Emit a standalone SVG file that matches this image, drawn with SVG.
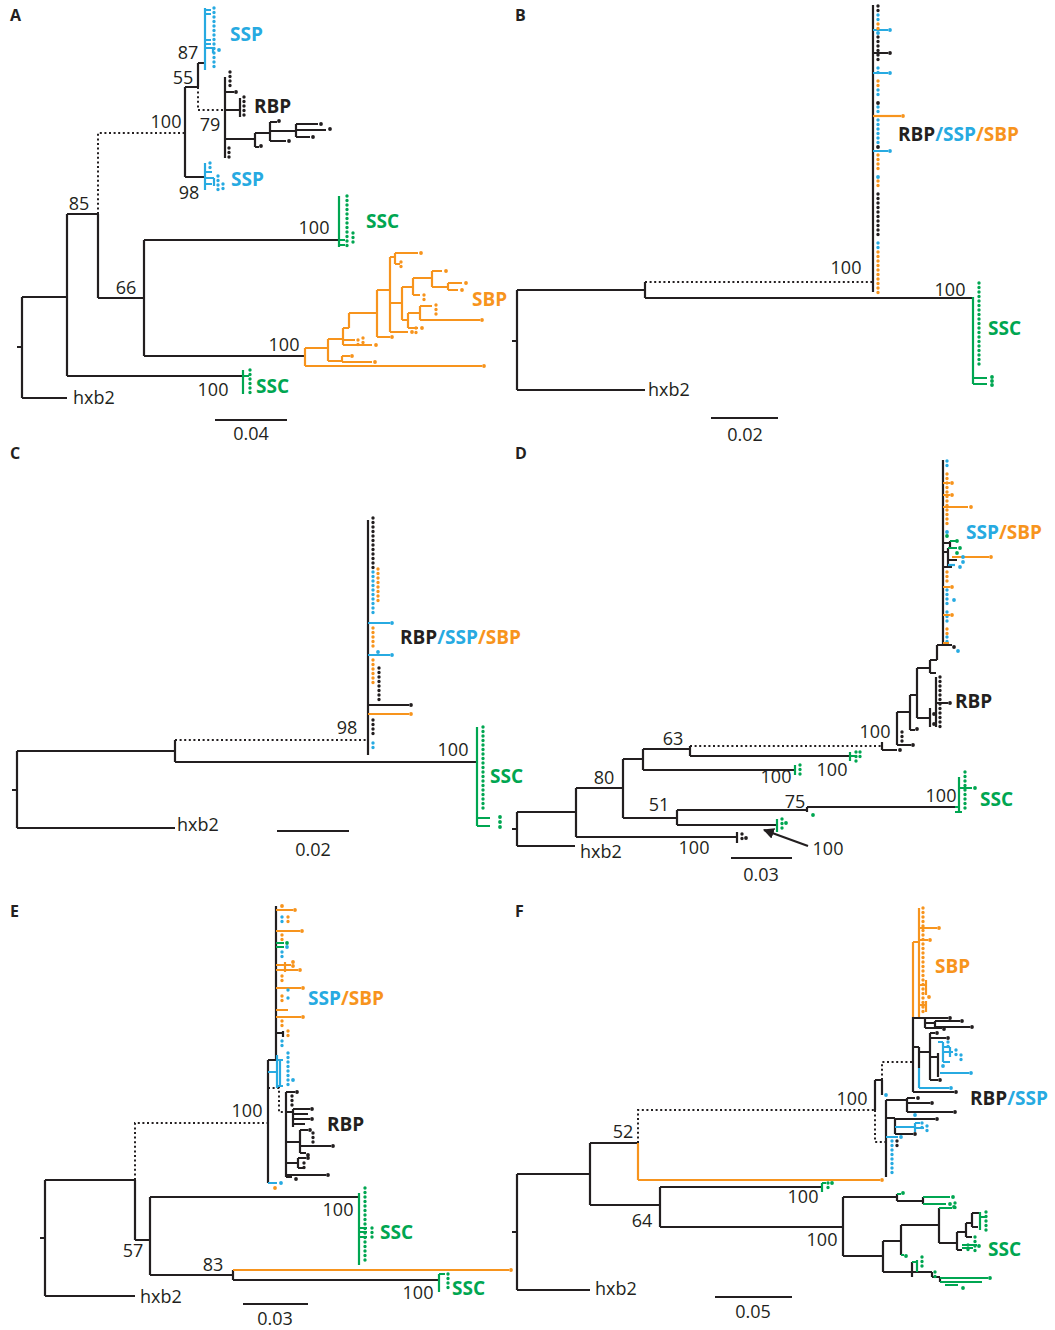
<svg xmlns="http://www.w3.org/2000/svg" width="1055" height="1330" viewBox="0 0 1055 1330">
<style>
.k{fill:none;stroke:#231f20;stroke-width:2.2}
.b{fill:none;stroke:#27aae1;stroke-width:2.2}
.o{fill:none;stroke:#f7941d;stroke-width:2.2}
.g{fill:none;stroke:#00a651;stroke-width:2.2}
.dt{fill:none;stroke:#231f20;stroke-width:2;stroke-dasharray:2 2.6}
.dk,.db,.do,.dg{fill:none;stroke-width:3.4;stroke-linecap:round;stroke-dasharray:0 4.5}
.pk,.pb,.po,.pg{fill:none;stroke-width:3.8;stroke-linecap:round}
.dk,.pk{stroke:#231f20}.db,.pb{stroke:#27aae1}.do,.po{stroke:#f7941d}.dg,.pg{stroke:#00a651}
text{font-family:"Open Sans","Liberation Sans",Arial,sans-serif;fill:#231f20}
.n{font-size:18px;text-anchor:middle}
.h{font-size:18px}
.L{font-size:19px;font-weight:bold}
.P{font-size:16px;font-weight:bold}
.tb{fill:#27aae1}.to{fill:#f7941d}.tg{fill:#00a651}
</style>
<defs>
<marker id="arr" viewBox="0 0 10 10" refX="9" refY="5" markerWidth="5" markerHeight="5" orient="auto"><path d="M0 0L10 5L0 10z" fill="#231f20"/></marker>
</defs>

<g id="panel-A">
<g id="A-connectors">
<path class="k" d="M17 347H22 M22 297V398 M22 297H67 M22 398H67 M67 214V376 M67 214H98 M98 214V298 M98 298H144 M144 240V356 M144 240H339 M144 356H305 M67 376H243 M185 87V177 M185 87H198 M198 87V63 M198 63H205 M185 177H205"/>
<path class="dt" d="M98 214V133H185 M198 87V110H225"/>
<path class="k" d="M225 77V158 M225 92H234 M225 110H240 M240 98V117 M225 139H255 M255 133V147 M255 147H259 M255 133H270 M270 122V141 M270 122H277 M270 131H296 M296 124V137 M296 124H318 M296 130H326 M296 137H310 M270 141H286"/>
<path class="dk" d="M230 72V86 M244 97V118 M229 148V158"/>
<path class="pk" d="M236 92h0 M261 146h0 M279 121h0 M321 124h0 M330 129h0 M313 137h0 M289 141h0"/>
<path class="b" d="M205 8V70 M205 10H211 M205 14H211 M205 40H211 M205 44H211 M205 48H213 M213 48V53"/>
<path class="db" d="M214 8V70"/>
<path class="pb" d="M219 50h0"/>
<path class="b" d="M205 163V190 M205 172H212 M205 178H214 M205 184H212 M214 178V186"/>
<path class="db" d="M210 163V172 M218 176V190 M223 184V190"/>
<path class="g" d="M339 196V247 M339 240H345 M339 245H345"/>
<path class="dg" d="M347 196V246 M353 233V246"/>
<path class="g" d="M243 370V394 M243 376H249"/>
<path class="dg" d="M250 370V394"/>
<path class="o" d="M305 348V366 M305 366H482 M305 348H328 M328 339V361 M328 361H342 M342 356V362 M342 356H350 M342 362H372 M328 339H343 M343 328V345 M343 345H372 M343 340H355 M343 328H349 M349 313V328 M349 313H377 M377 290V337 M377 337H390 M377 290H390 M390 257V332 M390 332H408 M390 257H395 M395 253V264 M395 253H418 M395 264H400 M390 303H402 M402 287V320 M402 287H413 M413 278V295 M413 278H432 M432 271V287 M432 271H442 M432 287H448 M448 283V290 M448 283H462 M448 290H458 M413 295H420 M402 320H408 M408 313V328 M408 313H420 M420 306V320 M420 306H432 M420 320H480 M408 328H418"/>
<path class="po" d="M484 366h0 M352 356h0 M375 362h0 M376 345h0 M392 337h0 M421 253h0 M446 271h0 M466 283h0 M462 290h0 M482 320h0 M422 328h0 M412 332h0"/>
<path class="do" d="M363 338V344 M401 262V270 M424 295V300 M436 305V318 M416 328V333 M358 340V345"/>
</g>
<g id="A-labels">
<text class="P" x="10" y="21">A</text>
<text class="n" x="188" y="59">87</text>
<text class="n" x="183" y="84">55</text>
<text class="n" x="166" y="128">100</text>
<text class="n" x="210" y="131">79</text>
<text class="n" x="189" y="199">98</text>
<text class="n" x="79" y="210">85</text>
<text class="n" x="126" y="294">66</text>
<text class="n" x="314" y="234">100</text>
<text class="n" x="284" y="351">100</text>
<text class="n" x="213" y="396">100</text>
<text class="L tb" x="230" y="41">SSP</text>
<text class="L" x="254" y="113">RBP</text>
<text class="L tb" x="231" y="186">SSP</text>
<text class="L tg" x="366" y="228">SSC</text>
<text class="L to" x="472" y="306">SBP</text>
<text class="L tg" x="256" y="393">SSC</text>
<text class="h" x="73" y="404">hxb2</text>
<path class="k" d="M215 420H287"/>
<text class="n" x="251" y="440">0.04</text>
</g>
</g>

<g id="panel-B">
<g id="B-connectors">
<path class="k" d="M512 341H517 M517 290V390 M517 290H645 M517 390H645 M645 282V298 M645 298H973 M873 5V292 M873 53H888"/>
<path class="dt" d="M645 282H873"/>
<path class="b" d="M873 30H888 M873 73H888 M873 151H888"/>
<path class="o" d="M873 116H901"/>
<path class="pb" d="M890 30h0 M890 73h0 M890 151h0 M878 33h0 M878 177h0"/>
<path class="pk" d="M890 53h0 M878 103h0 M878 147h0"/>
<path class="po" d="M903 116h0"/>
<path class="dk" d="M878 6V11 M878 37V64 M878 194V239"/>
<path class="db" d="M878 15V20 M878 68V77 M878 90V99 M878 107V112 M878 120V143 M878 243V248"/>
<path class="do" d="M878 24V29 M878 81V86 M878 155V173 M878 181V190 M878 252V297"/>
<path class="g" d="M973 297V384 M973 378H987 M973 384H987"/>
<path class="dg" d="M979 283V367"/>
<path class="pg" d="M992 377h0 M992 381h0 M992 385h0"/>
</g>
<g id="B-labels">
<text class="P" x="515" y="21">B</text>
<text class="n" x="846" y="274">100</text>
<text class="n" x="950" y="296">100</text>
<text class="L" x="898" y="141">RBP<tspan class="tb">/SSP</tspan><tspan class="to">/SBP</tspan></text>
<text class="L tg" x="988" y="335">SSC</text>
<text class="h" x="648" y="396">hxb2</text>
<path class="k" d="M711 418H778"/>
<text class="n" x="745" y="441">0.02</text>
</g>
</g>

<g id="panel-C">
<g id="C-connectors">
<path class="k" d="M12 790H17 M17 751V828 M17 751H175 M17 828H175 M175 740V762 M175 762H477 M368 520V755 M368 705H409"/>
<path class="dt" d="M175 740H368"/>
<path class="dk" d="M373 518V568 M379 668V700 M373 720V738"/>
<path class="db" d="M373 572V617 M373 743V752"/>
<path class="do" d="M378 569V605 M373 628V650 M373 660V687"/>
<path class="b" d="M368 623H390 M368 655H390"/>
<path class="o" d="M368 714H409"/>
<path class="pb" d="M392 623h0 M392 655h0 M378 652h0"/>
<path class="pk" d="M411 705h0"/>
<path class="po" d="M411 714h0"/>
<path class="g" d="M477 727V826 M477 818H490 M477 826H490"/>
<path class="dg" d="M483 727V812"/>
<path class="pg" d="M500 817h0 M500 822h0 M500 827h0"/>
</g>
<g id="C-labels">
<text class="P" x="10" y="459">C</text>
<text class="L" x="400" y="644">RBP<tspan class="tb">/SSP</tspan><tspan class="to">/SBP</tspan></text>
<text class="n" x="347" y="734">98</text>
<text class="n" x="453" y="756">100</text>
<text class="L tg" x="490" y="783">SSC</text>
<text class="h" x="177" y="831">hxb2</text>
<path class="k" d="M277 831H349"/>
<text class="n" x="313" y="856">0.02</text>
</g>
</g>

<g id="panel-D">
<g id="D-connectors">
<path class="k" d="M512 829H517 M517 812V846 M517 812H576 M517 846H575 M576 788V837 M576 788H623 M576 837H737 M737 832V843 M623 759V818 M623 759H643 M643 749V770 M643 749H690 M690 746V756 M690 756H850 M643 770H795 M623 818H677 M677 810V825 M677 810H807 M807 807V812 M807 807H955 M677 825H777"/>
<path class="dt" d="M690 746H882"/>
<path class="dk" d="M742 834V843"/>
<path class="pk" d="M746 838h0"/>
<path class="g" d="M850 752V761 M850 756H855 M795 765V775 M777 819V832 M955 807H959 M959 777V812 M959 788H972 M955 812H962"/>
<path class="dg" d="M856 752V762 M860 752V757 M800 765V775 M782 819V832 M965 772V810"/>
<path class="pg" d="M786 823h0 M813 815h0 M975 788h0"/>
<line class="k" x1="808" y1="846" x2="764" y2="830" marker-end="url(#arr)"/>
<path class="k" d="M882 742V750 M882 750H897 M897 712V745 M897 745H911 M897 712H910 M910 695V730 M910 730H915 M910 695H917 M917 668V718 M917 718H930 M930 708V727 M917 668H930 M930 660V673 M930 660H937 M937 645V660 M937 645H943 M943 460V645 M936 677V727 M930 673H936 M936 703H948 M943 645H952"/>
<path class="pk" d="M900 750h0 M913 745h0 M917 729h0 M950 703h0 M934 724h0 M934 714h0 M954 647h0"/>
<path class="dk" d="M902 732V742 M940 677V728"/>
<path class="db" d="M947 461V470 M947 590V608 M947 612V625 M947 637V642"/>
<path class="do" d="M947 474V528 M947 572V585 M947 629V634"/>
<path class="o" d="M943 483H950 M943 495H950 M943 507H968 M952 557H989 M943 587H950 M943 615H950 M943 643H949"/>
<path class="po" d="M952 483h0 M952 495h0 M971 507h0 M991 557h0 M952 587h0 M952 615h0"/>
<path class="pb" d="M947 532h0 M963 557h0 M963 562h0 M960 567h0 M958 651h0 M954 600h0"/>
<path class="pg" d="M947 536h0 M957 541h0 M960 548h0 M957 553h0"/>
<path class="k" d="M943 543H950 M950 541V547 M943 552H948 M948 548V568 M948 560H957 M943 567H952"/>
<path class="g" d="M950 541H956 M948 548H957"/>
<path class="b" d="M948 565H955"/>
</g>
<g id="D-labels">
<text class="P" x="515" y="459">D</text>
<text class="L tb" x="966" y="539">SSP<tspan class="to">/SBP</tspan></text>
<text class="L" x="955" y="708">RBP</text>
<text class="n" x="875" y="738">100</text>
<text class="n" x="673" y="745">63</text>
<text class="n" x="832" y="776">100</text>
<text class="n" x="776" y="783">100</text>
<text class="n" x="795" y="808">75</text>
<text class="n" x="604" y="784">80</text>
<text class="n" x="659" y="811">51</text>
<text class="n" x="941" y="802">100</text>
<text class="L tg" x="980" y="806">SSC</text>
<text class="n" x="694" y="854">100</text>
<text class="n" x="828" y="855">100</text>
<text class="h" x="580" y="858">hxb2</text>
<path class="k" d="M731 858H792"/>
<text class="n" x="761" y="881">0.03</text>
</g>
</g>

<g id="panel-E">
<g id="E-connectors">
<path class="k" d="M40 1238H45 M45 1180V1296 M45 1180H135 M45 1296H135 M135 1180V1240 M135 1240H150 M150 1197V1275 M150 1197H359 M150 1275H233 M233 1270V1280 M233 1280H439 M268 1060V1183 M268 1060H276 M276 906V1060"/>
<path class="dt" d="M135 1180V1123H268 M268 1088H279V1112H286"/>
<path class="o" d="M233 1270H509"/>
<path class="po" d="M511 1270h0 M275 1188h0"/>
<path class="g" d="M359 1193V1265 M359 1228H367 M359 1232H367 M359 1237H367 M439 1274V1292 M439 1274H445"/>
<path class="dg" d="M365 1188V1263 M372 1228V1240 M448 1274V1292"/>
<path class="b" d="M268 1183H277 M268 1072H277 M277 1055V1088 M277 1060H283 M280 1060V1086 M277 1086H283"/>
<path class="db" d="M288 1053V1085"/>
<path class="pb" d="M281 1183h0 M293 1080h0"/>
<path class="k" d="M286 1092V1177 M286 1092H295 M286 1112H293 M293 1109V1127 M293 1109H310 M293 1114H308 M293 1119H310 M293 1124H305 M286 1142H300 M300 1130V1153 M300 1130H308 M300 1146H331 M300 1153H306 M286 1163H298 M298 1158V1168 M298 1158H306 M298 1168H305 M286 1175H326 M286 1177H292"/>
<path class="pk" d="M297 1092h0 M312 1109h0 M312 1119h0 M333 1146h0 M308 1155h0 M328 1175h0 M296 1179h0 M308 1158h0 M310 1130h0"/>
<path class="dk" d="M292 1096V1106 M313 1133V1143 M304 1163V1172"/>
<path class="o" d="M276 910H293 M276 931H300 M276 965H285 M285 962V972 M285 965H291 M276 970H298 M276 988H301 M276 1010H288 M276 1017H301"/>
<path class="po" d="M282 906h0 M295 910h0 M302 931h0 M293 962h0 M293 966h0 M300 970h0 M303 988h0 M303 1017h0"/>
<path class="db" d="M282 917V926 M282 952V961 M288 990V994 M288 998V1002 M282 1041V1050"/>
<path class="do" d="M288 917V926 M282 935V940 M282 976V985 M282 996V1005 M282 1021V1026 M288 1031V1037"/>
<path class="g" d="M276 943H284 M276 947H284"/>
<path class="pg" d="M287 943h0"/>
<path class="pb" d="M287 947h0"/>
<path class="k" d="M276 1033H283 M283 1031V1037"/>
</g>
<g id="E-labels">
<text class="P" x="10" y="917">E</text>
<text class="L tb" x="308" y="1005">SSP<tspan class="to">/SBP</tspan></text>
<text class="L" x="327" y="1131">RBP</text>
<text class="n" x="247" y="1117">100</text>
<text class="n" x="338" y="1216">100</text>
<text class="L tg" x="380" y="1239">SSC</text>
<text class="n" x="133" y="1257">57</text>
<text class="n" x="213" y="1271">83</text>
<text class="n" x="418" y="1299">100</text>
<text class="L tg" x="452" y="1295">SSC</text>
<text class="h" x="140" y="1303">hxb2</text>
<path class="k" d="M243 1304H308"/>
<text class="n" x="275" y="1325">0.03</text>
</g>
</g>

<g id="panel-F">
<g id="F-connectors">
<path class="k" d="M512 1232H517 M517 1174V1290 M517 1174H590 M517 1290H590 M590 1143V1205 M590 1143H638 M590 1205H660 M660 1187V1227 M660 1187H822 M660 1227H843 M843 1197V1256 M843 1197H897 M843 1256H883 M875 1080V1110 M875 1080H882 M882 1080V1095"/>
<path class="o" d="M638 1143V1180 M638 1180H880"/>
<path class="po" d="M882 1180h0"/>
<path class="dt" d="M638 1143V1110H875 M875 1110V1142H886 M882 1080V1062H913"/>
<path class="pb" d="M886 1095h0"/>
<path class="o" d="M913 942V1017 M913 942H919 M919 908V1017 M919 928H937 M919 940H928 M919 985H926 M926 980V995 M919 1005H926 M926 1001V1012"/>
<path class="po" d="M939 928h0 M930 940h0 M929 997h0"/>
<path class="do" d="M923 908V1016"/>
<path class="k" d="M913 1017V1092 M913 1018H948 M925 1018V1028 M925 1023H935 M935 1021V1027 M935 1021H960 M935 1027H970 M925 1028H942 M913 1047H919 M919 1047V1068 M919 1052H930 M930 1033V1080 M930 1033H935 M930 1038H946 M930 1057H938 M938 1053V1077 M930 1080H938 M913 1092H954"/>
<path class="pk" d="M950 1018h0 M962 1021h0 M972 1027h0 M944 1029h0 M937 1033h0 M948 1038h0 M940 1080h0 M956 1092h0"/>
<path class="b" d="M938 1042H943 M943 1042V1062 M943 1047H950 M943 1052H953 M950 1047V1057 M943 1062H950 M940 1073H969 M919 1068V1088 M919 1088H949"/>
<path class="db" d="M948 1042V1047 M956 1050V1059 M961 1055V1062"/>
<path class="pb" d="M971 1073h0 M951 1088h0 M943 1066h0"/>
<path class="k" d="M886 1100V1177 M886 1100H907 M907 1098V1112 M907 1098H915 M907 1103H930 M907 1112H953 M886 1118H895 M895 1118V1134 M895 1119H935 M895 1134H913"/>
<path class="pk" d="M918 1098h0 M932 1103h0 M955 1112h0 M937 1119h0 M915 1134h0"/>
<path class="b" d="M895 1127H915 M915 1123V1132 M915 1123H920 M915 1128H924 M886 1137H898"/>
<path class="db" d="M922 1123V1132 M927 1126V1131 M892 1141V1177"/>
<path class="dk" d="M897 1141V1150"/>
<path class="pb" d="M915 1115h0 M901 1137h0"/>
<path class="k" d="M897 1194V1201 M897 1201H923 M923 1197V1204 M883 1241V1272 M883 1241H901 M901 1225V1255 M901 1225H939 M939 1208V1243 M939 1243H957 M957 1232V1250 M957 1232H966 M966 1223V1237 M966 1223H972 M972 1213V1227 M972 1213H980 M883 1272H912 M912 1262V1277 M912 1272H932 M932 1272V1277 M932 1277H940 M940 1277V1282 M957 1250H962 M966 1237H972 M972 1227H978"/>
<path class="g" d="M897 1194H901 M923 1197H950 M923 1204H946 M939 1208H952 M980 1212V1230 M980 1217H985 M962 1245H977 M962 1248H973 M912 1262H917 M917 1260V1272 M940 1278H988 M940 1282H982 M945 1285H958 M901 1255H904 M822 1183V1192 M822 1183H826"/>
<path class="pg" d="M903 1193h0 M953 1197h0 M950 1204h0 M954 1207h0 M990 1278h0 M963 1288h0 M906 1256h0 M979 1246h0 M832 1183h0"/>
<path class="dg" d="M955 1203V1212 M986 1212V1231 M975 1237V1252 M922 1257V1270 M935 1272V1277 M968 1245V1250 M828 1183V1192"/>
</g>
<g id="F-labels">
<text class="P" x="515" y="917">F</text>
<text class="L to" x="935" y="973">SBP</text>
<text class="L" x="970" y="1105">RBP<tspan class="tb">/SSP</tspan></text>
<text class="n" x="852" y="1105">100</text>
<text class="n" x="623" y="1138">52</text>
<text class="n" x="803" y="1203">100</text>
<text class="n" x="642" y="1227">64</text>
<text class="n" x="822" y="1246">100</text>
<text class="L tg" x="988" y="1256">SSC</text>
<text class="h" x="595" y="1295">hxb2</text>
<path class="k" d="M715 1297H792"/>
<text class="n" x="753" y="1318">0.05</text>
</g>
</g>
</svg>
